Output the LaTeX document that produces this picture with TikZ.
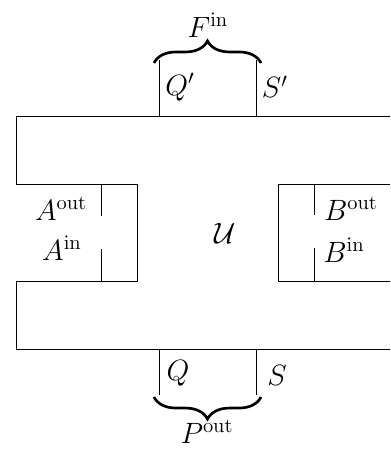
\documentclass[tikz,border=0pt]{standalone}
\usepackage{amsmath, amssymb}
\usepackage{tikz}
\usetikzlibrary{decorations.pathreplacing}

\begin{document}
\begin{tikzpicture}[brc/.style={decorate, decoration={brace, amplitude=0.38cm}, line width=1.3pt},
  every node/.style={font=\Large}]
\useasboundingbox (0,0) rectangle (6.724,7.741);

% Outer region with left notch
\draw (6.724,5.741) -- (0.276,5.741) -- (0.276,4.569) -- (2.362,4.569)
  -- (2.362,2.897) -- (0.276,2.897) -- (0.276,1.724) -- (6.724,1.724);
\draw (1.741,4.569) -- (1.741,4.017);
\draw (1.741,3.448) -- (1.741,2.897);

% Right box
\draw (6.724,4.569) -- (4.793,4.569) -- (4.793,2.897) -- (6.724,2.897);
\draw (5.414,4.569) -- (5.414,4.034);
\draw (5.414,3.466) -- (5.414,2.897);

% Top and bottom legs
\foreach \x in {2.741,4.414} {
  \draw (\x,5.741) -- (\x,6.707);
  \draw (\x,1.724) -- (\x,0.931);
}

% Braces
\draw[brc] (2.655,6.655) -- (4.500,6.655);
\draw[brc] (4.500,0.896) -- (2.655,0.896);

% Labels
\node (fin) at (3.586,7.310) {$F^{\mathrm{in}}$};
\node (pout) at (3.569,0.293) {$P^{\mathrm{out}}$};
\node (qp) at (3.103,6.241) {$Q'$};
\node (sp) at (4.741,6.241) {$S'$};
\node (q) at (3.069,1.310) {$Q$};
\node (s) at (4.776,1.276) {$S$};
\node (u) at (3.879,3.724) {$\mathcal{U}$};
\node (aout) at (1.052,4.138) {$A^{\mathrm{out}}$};
\node (ain) at (1.069,3.466) {$A^{\mathrm{in}}$};
\node (bout) at (6.052,4.138) {$B^{\mathrm{out}}$};
\node (bin) at (5.931,3.431) {$B^{\mathrm{in}}$};
\end{tikzpicture}
\end{document}
